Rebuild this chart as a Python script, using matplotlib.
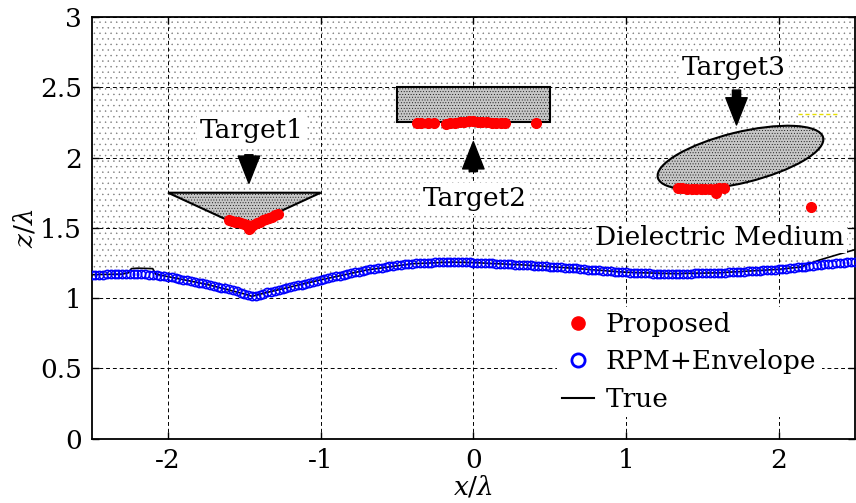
import numpy as np
import matplotlib
matplotlib.use("Agg")
import matplotlib.pyplot as plt
from matplotlib.patches import Polygon, Rectangle, Ellipse
from matplotlib.lines import Line2D

# ---------------- data ----------------
# RPM+Envelope reconstruction (x = -2.5 .. 2.5 step 0.025)
rpm_z = [1.167, 1.167, 1.168, 1.168, 1.169, 1.170, 1.170, 1.171, 1.171, 1.172,
         1.172, 1.172, 1.172, 1.171, 1.169, 1.167, 1.164, 1.162, 1.159, 1.156,
         1.153, 1.148, 1.143, 1.138, 1.132, 1.127, 1.121, 1.116, 1.110, 1.105,
         1.099, 1.093, 1.087, 1.081, 1.075, 1.069, 1.062, 1.055, 1.048, 1.040,
         1.030, 1.021, 1.013, 1.014, 1.020, 1.030, 1.041, 1.047, 1.053, 1.059,
         1.065, 1.072, 1.078, 1.084, 1.090, 1.097, 1.103, 1.110, 1.116, 1.123,
         1.130, 1.137, 1.143, 1.149, 1.155, 1.161, 1.167, 1.173, 1.178, 1.184,
         1.189, 1.195, 1.200, 1.205, 1.209, 1.214, 1.218, 1.222, 1.226, 1.230,
         1.233, 1.237, 1.240, 1.243, 1.245, 1.247, 1.249, 1.251, 1.252, 1.253,
         1.254, 1.255, 1.255, 1.256, 1.256, 1.256, 1.256, 1.256, 1.255, 1.254,
         1.253, 1.252, 1.251, 1.250, 1.249, 1.248, 1.246, 1.245, 1.243, 1.242,
         1.240, 1.238, 1.237, 1.236, 1.235, 1.234, 1.232, 1.230, 1.228, 1.227,
         1.225, 1.223, 1.221, 1.219, 1.217, 1.215, 1.213, 1.211, 1.208, 1.206,
         1.203, 1.201, 1.199, 1.197, 1.195, 1.193, 1.191, 1.189, 1.187, 1.185,
         1.184, 1.182, 1.181, 1.180, 1.178, 1.177, 1.176, 1.175, 1.175, 1.174,
         1.174, 1.174, 1.174, 1.174, 1.174, 1.175, 1.175, 1.175, 1.176, 1.176,
         1.177, 1.177, 1.178, 1.179, 1.180, 1.181, 1.182, 1.183, 1.185, 1.186,
         1.188, 1.189, 1.191, 1.192, 1.194, 1.195, 1.197, 1.199, 1.201, 1.203,
         1.205, 1.207, 1.210, 1.213, 1.216, 1.219, 1.222, 1.225, 1.228, 1.231,
         1.234, 1.237, 1.240, 1.242, 1.245, 1.247, 1.250, 1.252, 1.255, 1.257,
         1.260]
rpm_x = np.round(-2.5 + 0.025 * np.arange(len(rpm_z)), 3)

# True rough surface
true_x = [-2.5, -2.3, -2.26, -2.24, -2.2, -2.1, -2.08, -2.0, -1.75, -1.5, -1.45,
          -1.35, -1.0, -0.7, -0.4, -0.15, 0.0, 0.35, 0.65, 1.0, 1.3, 1.6, 2.0,
          2.15, 2.2, 2.27, 2.4, 2.5]
true_z = [1.167, 1.171, 1.18, 1.21, 1.213, 1.21, 1.17, 1.153, 1.099, 1.030, 1.013,
          1.041, 1.130, 1.200, 1.245, 1.256, 1.253, 1.235, 1.213, 1.184, 1.174,
          1.180, 1.205, 1.222, 1.245, 1.272, 1.314, 1.345]

# Proposed method reconstruction points
prop_x = [-1.60, -1.58, -1.56, -1.54, -1.52, -1.50, -1.48, -1.47, -1.46, -1.44,
          -1.42, -1.40, -1.38, -1.36, -1.34, -1.32, -1.30, -1.28,
          -0.37, -0.34, -0.30, -0.26, -0.18, -0.15, -0.12, -0.09, -0.06, -0.03,
          0.00, 0.03, 0.06, 0.09, 0.12, 0.15, 0.18, 0.21, 0.41,
          1.34, 1.37, 1.40, 1.43, 1.46, 1.49, 1.52, 1.55, 1.58, 1.59, 1.61, 1.64,
          2.215]
prop_z = [1.555, 1.550, 1.545, 1.540, 1.535, 1.530, 1.520, 1.490, 1.500, 1.520,
          1.535, 1.545, 1.555, 1.560, 1.570, 1.580, 1.590, 1.600,
          2.245, 2.248, 2.244, 2.246, 2.242, 2.244, 2.246, 2.250, 2.255, 2.260,
          2.258, 2.255, 2.252, 2.250, 2.248, 2.246, 2.245, 2.244, 2.248,
          1.785, 1.780, 1.775, 1.778, 1.776, 1.775, 1.776, 1.777, 1.775, 1.748,
          1.780, 1.787,
          1.650]

# Small yellow dashed fragment
yel_x = [2.13, 2.38]
yel_z = [2.31, 2.31]

# Targets
target1_x = [-2.0, -1.0, -1.5]
target1_z = [1.75, 1.75, 1.5]
target2_x = [-0.5, 0.5]
target2_z = [2.25, 2.5]
target3_center = (1.75, 2.0)
target3_axes = (1.12, 0.36)
target3_angle = 15

xticks = [-2, -1, 0, 1, 2]
xticklabels = ["-2", "-1", "0", "1", "2"]
yticks = [0, 0.5, 1, 1.5, 2, 2.5, 3]
yticklabels = ["0", "0.5", "1", "1.5", "2", "2.5", "3"]

# ---------------- style ----------------
plt.rcParams['font.family'] = ['DejaVu Serif']
plt.rcParams['mathtext.fontset'] = 'dejavuserif'
plt.rcParams['hatch.linewidth'] = 0.3
FS = 19

fig = plt.figure(figsize=(8.56, 5.03), dpi=100)
ax = fig.add_axes([0.1071, 0.1278, 0.8917, 0.8384])
ax.set_xlim(-2.5, 2.5)
ax.set_ylim(0, 3)

# dielectric medium (dotted)
ax.fill_between(true_x, true_z, 3, facecolor='white', edgecolor='#7a7a7a',
                hatch='...', linewidth=0, zorder=0.5)

# grid
ax.grid(True, color='k', linestyle=(0, (4, 3)), linewidth=0.7)

# targets
tcol = '#c6c6c6'
tri = Polygon(list(zip(target1_x, target1_z)), closed=True, facecolor=tcol,
              edgecolor='k', linewidth=1.5, hatch='......', zorder=2)
ax.add_patch(tri)
rect = Rectangle((target2_x[0], target2_z[0]), target2_x[1] - target2_x[0],
                 target2_z[1] - target2_z[0], facecolor=tcol, edgecolor='k',
                 linewidth=1.5, hatch='......', zorder=2)
ax.add_patch(rect)
ell = Ellipse(target3_center, target3_axes[0], target3_axes[1], angle=target3_angle,
              facecolor=tcol, edgecolor='k', linewidth=1.5, hatch='......', zorder=2)
ax.add_patch(ell)

# curves
ax.plot(true_x, true_z, color='k', linewidth=1.2, zorder=2.5)
ax.plot(rpm_x, rpm_z, linestyle='none', marker='o', markersize=6,
        markerfacecolor='none', markeredgecolor='#0000ff', markeredgewidth=1.1, zorder=3)
ax.plot(prop_x, prop_z, linestyle='none', marker='o', markersize=7,
        markerfacecolor='#ff0000', markeredgecolor='#ff0000', zorder=4)
ax.plot(yel_x, yel_z, color='#e8e000', linestyle=(0, (3, 2)), linewidth=1, zorder=3)

# arrows
arrow_kw = dict(arrowstyle='simple,head_width=1.1,head_length=1.4,tail_width=0.42',
                color='k', shrinkA=0, shrinkB=0, mutation_scale=14)
ax.annotate('', xy=(-1.47, 1.817), xytext=(-1.47, 2.02), arrowprops=arrow_kw, zorder=5)
ax.annotate('', xy=(0.0, 2.113), xytext=(0.0, 1.90), arrowprops=arrow_kw, zorder=5)
ax.annotate('', xy=(1.724, 2.232), xytext=(1.724, 2.48), arrowprops=arrow_kw, zorder=5)

box = dict(facecolor='white', edgecolor='none', pad=2)
ax.text(-1.45, 2.139, 'Target1', fontsize=FS, ha='center', va='baseline', bbox=box, zorder=6)
ax.text(0.01, 1.655, 'Target2', fontsize=FS, ha='center', va='baseline', bbox=box, zorder=6)
ax.text(1.706, 2.587, 'Target3', fontsize=FS, ha='center', va='baseline', bbox=box, zorder=6)
ax.text(1.61, 1.378, 'Dielectric Medium', fontsize=FS, ha='center', va='baseline',
        bbox=box, zorder=6)

# ticks & labels
ax.set_xticks(xticks)
ax.set_xticklabels(xticklabels)
ax.set_yticks(yticks)
ax.set_yticklabels(yticklabels)
ax.tick_params(direction='in', length=5, width=1, top=True, right=True,
               labelsize=FS, pad=7)
for s in ax.spines.values():
    s.set_linewidth(1.3)
ax.set_xlabel(r'$x/\lambda$', fontsize=FS, labelpad=0)
ax.set_ylabel(r'$z/\lambda$', fontsize=FS, labelpad=2)

# legend
handles = [Line2D([], [], linestyle='none', marker='o', markersize=9.5,
                  markerfacecolor='#ff0000', markeredgecolor='#ff0000'),
           Line2D([], [], linestyle='none', marker='o', markersize=9.5,
                  markerfacecolor='none', markeredgecolor='#0000ff', markeredgewidth=2),
           Line2D([], [], color='k', linewidth=1.5)]
leg = ax.legend(handles, ['Proposed', 'RPM+Envelope', 'True'], loc='center',
                bbox_to_anchor=(0.783, 0.182), fontsize=FS, frameon=True,
                facecolor='white', edgecolor='none', framealpha=1, fancybox=False,
                handlelength=1.2, handletextpad=0.45, labelspacing=0.48,
                borderpad=0.2)
leg.set_zorder(7)

fig.savefig('out.png', dpi=100)
